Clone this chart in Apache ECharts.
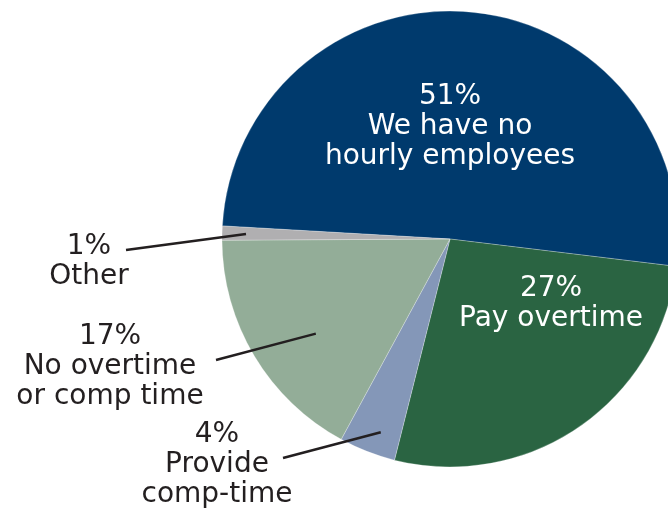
<!DOCTYPE html>
<html>
<head>
<meta charset="utf-8">
<script src="https://cdn.jsdelivr.net/npm/echarts@6/dist/echarts.min.js"></script>
<style>
  html, body { margin: 0; padding: 0; background: #ffffff; }
  #chart { width: 668px; height: 510px; }
</style>
</head>
<body>
<div id="chart"></div>
<script>
// Overtime policy survey shares (percent)
const categories = [
  'We have no\nhourly employees',
  'Pay overtime',
  'Provide\ncomp-time',
  'No overtime\nor comp time',
  'Other'
];
const shares = [51, 27, 4, 17, 1];
const sliceColors = ['#003a6d', '#2a6442', '#8497b8', '#93ad98', '#b0afb1'];

// label block centres (px) and whether the label sits inside its slice
const labelCenters = [[450, 127], [551, 304], [217, 465], [110, 367], [89, 262]];
const insideLabel = [true, true, false, false, false];
// where each leader line leaves the text block
const lineTextEnds = [null, null, [283, 458], [216, 360], [126, 250]];
// where each leader line ends inside its slice: share of the radius, share of the slice's sweep
const lineSliceDepth = [0, 0, 0.9, 0.72, 0.895];
const lineSliceSweep = [0, 0, 0.39, 0.43, 0.47];

const FONT = '"DejaVu Sans", sans-serif';

const chart = echarts.init(document.getElementById('chart'), null, { renderer: 'canvas' });

const data = categories.map((name, i) => ({
  name: name,
  value: shares[i],
  itemStyle: { color: sliceColors[i] },
  label: {
    color: insideLabel[i] ? '#ffffff' : '#231f20'
  }
}));

chart.setOption({
  animation: false,
  backgroundColor: '#ffffff',
  series: [{
    type: 'pie',
    center: [450, 239],
    radius: 228,
    startAngle: 176.7,
    clockwise: true,
    avoidLabelOverlap: false,
    itemStyle: { borderColor: 'rgba(255,255,255,0.5)', borderWidth: 0.5 },
    label: {
      show: true,
      position: 'inside',
      formatter: '{c}%\n{b}',
      fontFamily: FONT,
      fontSize: 28,
      lineHeight: 30,
      align: 'center',
      verticalAlign: 'middle'
    },
    labelLine: { show: false },
    labelLayout: function (params) {
      const c = labelCenters[params.dataIndex];
      return { x: c[0], y: c[1], align: 'center', verticalAlign: 'middle' };
    },
    emphasis: { disabled: true },
    data: data
  }]
});

// leader lines from outside labels into their slices
const seriesData = chart.getModel().getSeriesByIndex(0).getData();
const lines = [];
shares.forEach((v, i) => {
  if (!lineTextEnds[i]) return;
  const lay = seriesData.getItemLayout(i);
  const ang = lay.startAngle + (lay.endAngle - lay.startAngle) * lineSliceSweep[i];
  const r = lay.r * lineSliceDepth[i];
  const px = lay.cx + r * Math.cos(ang);
  const py = lay.cy + r * Math.sin(ang);
  lines.push({
    type: 'line',
    shape: { x1: lineTextEnds[i][0], y1: lineTextEnds[i][1], x2: px, y2: py },
    style: { stroke: '#231f20', lineWidth: 2.5 },
    z: 10
  });
});
chart.setOption({ graphic: lines });
</script>
</body>
</html>
